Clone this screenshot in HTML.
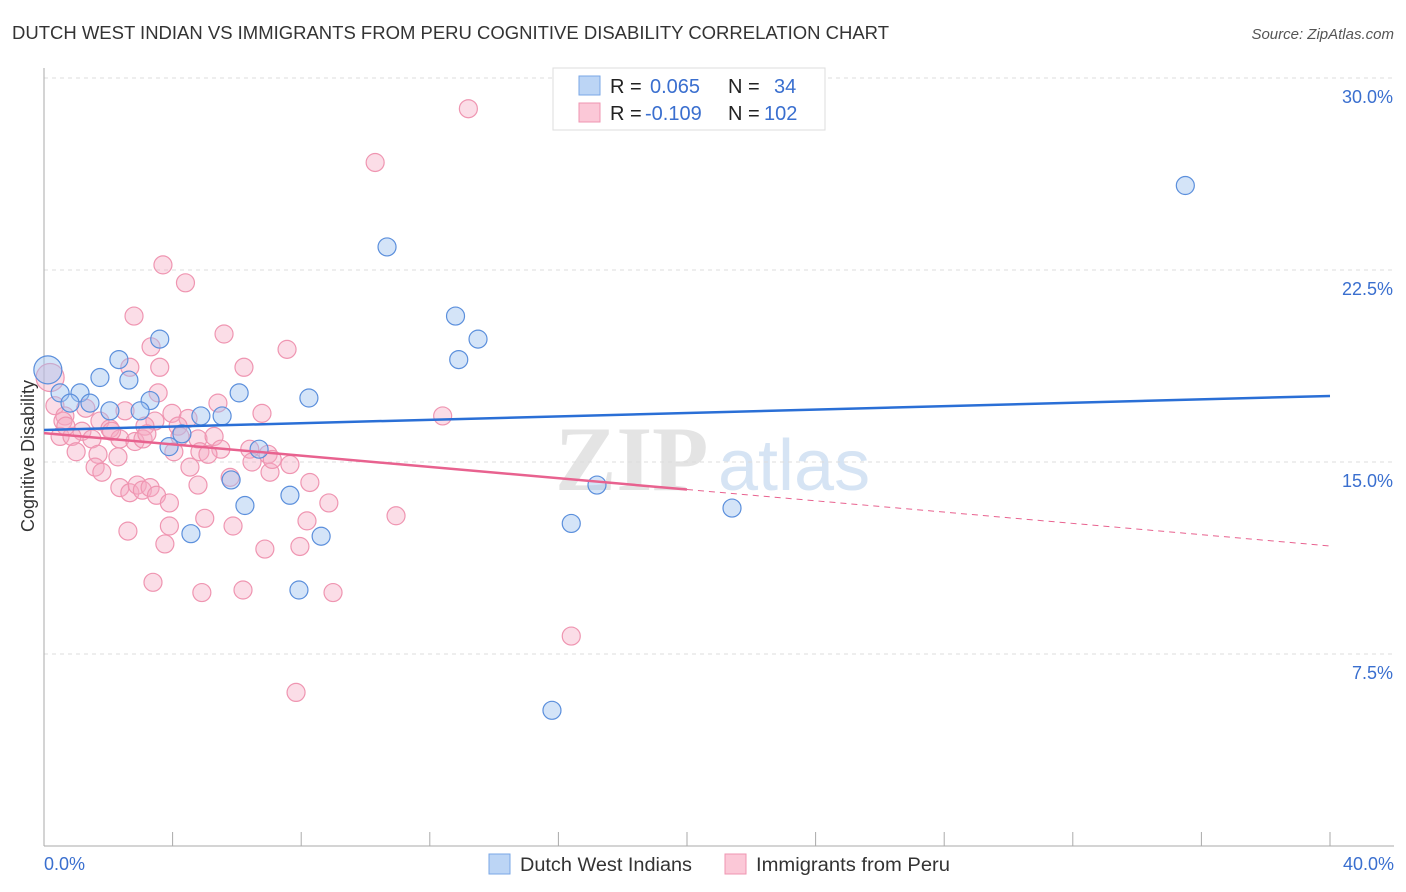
<!DOCTYPE html>
<html><head><meta charset="utf-8"><style>
body{margin:0;background:#fff;font-family:"Liberation Sans",sans-serif;}
#wrap{position:relative;width:1406px;height:892px;overflow:hidden}
</style></head><body><div id="wrap">
<svg id="svg" width="1406" height="892" xmlns="http://www.w3.org/2000/svg" font-family="Liberation Sans, sans-serif">
<text x="12" y="39" font-size="18" fill="#333" textLength="877" lengthAdjust="spacingAndGlyphs">DUTCH WEST INDIAN VS IMMIGRANTS FROM PERU COGNITIVE DISABILITY CORRELATION CHART</text>
<text x="1394" y="39" font-size="15" fill="#555" font-style="italic" text-anchor="end">Source: ZipAtlas.com</text>
<text transform="translate(34,456) rotate(-90)" font-size="18" fill="#333" text-anchor="middle">Cognitive Disability</text>
<g><text x="555" y="490" font-size="92" fill="#e4e4e4" font-family="Liberation Serif, serif" font-weight="bold">ZIP</text><text x="718" y="490" font-size="72" fill="#d6e4f4">atlas</text></g>
<g id="grid"></g><g id="marks"></g><g id="lines"></g>
<g>
<rect x="553" y="68" width="272" height="62" fill="#fff" stroke="#ddd"/>
<rect x="579" y="76" width="21" height="19" fill="#bcd5f5" stroke="#7aa7e6"/>
<rect x="579" y="103" width="21" height="19" fill="#fbc8d7" stroke="#ef95b1"/>
<text x="610" y="93" font-size="20" fill="#222">R = <tspan fill="#3a6fcf" x="650">0.065</tspan><tspan x="728">N =</tspan><tspan fill="#3a6fcf" x="774">34</tspan></text>
<text x="610" y="120" font-size="20" fill="#222">R = <tspan fill="#3a6fcf" x="645">-0.109</tspan><tspan x="728">N =</tspan><tspan fill="#3a6fcf" x="764">102</tspan></text>
</g>
<g>
<rect x="489" y="854" width="21" height="20" fill="#bcd5f5" stroke="#7aa7e6"/>
<text x="520" y="871" font-size="19" fill="#333" textLength="172" lengthAdjust="spacingAndGlyphs">Dutch West Indians</text>
<rect x="725" y="854" width="21" height="20" fill="#fbc8d7" stroke="#ef95b1"/>
<text x="756" y="871" font-size="19" fill="#333" textLength="194" lengthAdjust="spacingAndGlyphs">Immigrants from Peru</text>
</g>
</svg></div>
<script>
const yTicks=[7.5,15,22.5,30];
const yTickLabels=["7.5%","15.0%","22.5%","30.0%"];
const xTickLabels=["0.0%","40.0%"];
const blueX=[35.5,10.67,12.8,13.5,3.6,12.9,2.33,1.74,2.64,6.07,8.24,0.5,1.12,3.3,1.43,0.81,2.05,2.99,5.54,4.88,4.29,3.89,6.69,5.82,7.65,6.25,4.57,8.62,16.4,17.2,21.4,7.93,15.8,0.12];
const blueY=[25.8,23.4,20.7,19.8,19.8,19.0,19.0,18.3,18.2,17.7,17.5,17.7,17.7,17.4,17.3,17.3,17.0,17.0,16.8,16.8,16.1,15.6,15.5,14.3,13.7,13.3,12.2,12.1,12.6,14.1,13.2,10.0,5.3,18.6];
const pinkX=[13.2,10.3,3.7,4.4,2.8,5.6,3.33,7.56,6.22,3.6,2.67,0.19,3.55,5.41,12.4,6.78,3.98,2.52,1.3,0.34,0.65,1.74,3.45,4.48,4.17,3.14,2.05,1.18,0.5,0.87,1.49,2.36,2.83,3.08,4.23,4.79,5.29,1.0,1.68,2.3,4.04,4.85,5.5,6.4,6.97,5.1,1.59,4.54,1.8,6.47,7.03,7.65,7.1,2.36,2.67,2.9,3.06,3.3,3.5,3.9,4.79,5.79,8.27,8.86,2.61,5.0,3.9,5.88,8.18,10.95,3.76,6.87,7.96,3.39,4.91,6.19,8.99,16.4,7.84,0.59,2.1,3.2,0.68];
const pinkY=[28.8,26.7,22.7,22.0,20.7,20.0,19.5,19.4,18.7,18.7,18.7,18.3,17.7,17.3,16.8,16.9,16.9,17.0,17.1,17.2,16.8,16.6,16.6,16.7,16.4,16.4,16.3,16.2,16.0,16.0,15.9,15.9,15.8,15.9,16.0,15.9,16.0,15.4,15.3,15.2,15.4,15.4,15.5,15.5,15.3,15.3,14.8,14.8,14.6,15.0,14.6,14.9,15.1,14.0,13.8,14.1,13.9,14.0,13.7,13.4,14.1,14.4,14.2,13.4,12.3,12.8,12.5,12.5,12.7,12.9,11.8,11.6,11.7,10.3,9.9,10.0,9.9,8.2,6.0,16.6,16.2,16.1,16.4];
const blueTrend=[16.25,17.58];
const pinkTrend=[16.13,11.72];
const pinkSolidEnd=20;
const NS="http://www.w3.org/2000/svg";
const xs=v=>44+v/40*1286, ys=v=>846-v/7.5*192;
function mk(t,a,p){const e=document.createElementNS(NS,t);for(const k in a)e.setAttribute(k,a[k]);p.appendChild(e);return e;}
const grid=document.getElementById('grid'),marks=document.getElementById('marks'),lines=document.getElementById('lines');
yTicks.forEach((t,i)=>{
 const g=mk('line',{x1:44,x2:1394,y1:ys(t),y2:ys(t),stroke:'#ddd','stroke-dasharray':'4,4'},grid);
 
 
 const l=mk('text',{x:1393,y:ys(t)+25,'font-size':18,fill:'#3a6fcf','text-anchor':'end'},grid);l.textContent=yTickLabels[i];
 
 
});
const ax=mk('line',{x1:44,x2:44,y1:68,y2:846,stroke:'#aaa'},grid);


const bx=mk('line',{x1:44,x2:1394,y1:846,y2:846,stroke:'#aaa'},grid);


for(let i=0;i<=10;i++){const t=mk('line',{x1:xs(i*4),x2:xs(i*4),y1:832,y2:846,stroke:'#aaa'},grid);
 
 }
[[0,'start',44],[40,'end',1394]].forEach((d,i)=>{const t=mk('text',{x:d[2],y:870,'font-size':18,fill:'#3a6fcf','text-anchor':d[1]},grid);t.textContent=xTickLabels[i];
 
 });
pinkX.forEach((x,i)=>{const c=mk('circle',{cx:xs(x),cy:ys(pinkY[i]),r:i==11?14:9,fill:'rgba(246,170,195,0.4)',stroke:'#ef95b1','stroke-width':1.2},marks);
 
 });
blueX.forEach((x,i)=>{const c=mk('circle',{cx:xs(x),cy:ys(blueY[i]),r:i==33?14:9,fill:'rgba(160,195,240,0.45)',stroke:'#5b8fdc','stroke-width':1.2},marks);
 
 });
const bl=mk('line',{x1:xs(0),y1:ys(blueTrend[0]),x2:xs(40),y2:ys(blueTrend[1]),stroke:'#2a6fd6','stroke-width':2.5},lines);


const pm=pinkTrend[0]+(pinkTrend[1]-pinkTrend[0])*pinkSolidEnd/40;
const pl=mk('line',{x1:xs(0),y1:ys(pinkTrend[0]),x2:xs(pinkSolidEnd),y2:ys(pm),stroke:'#e8628f','stroke-width':2.5},lines);


const pd=mk('line',{x1:xs(pinkSolidEnd),y1:ys(pm),x2:xs(40),y2:ys(pinkTrend[1]),stroke:'#e8628f','stroke-width':1,'stroke-dasharray':'6,5'},lines);


</script></body></html>
